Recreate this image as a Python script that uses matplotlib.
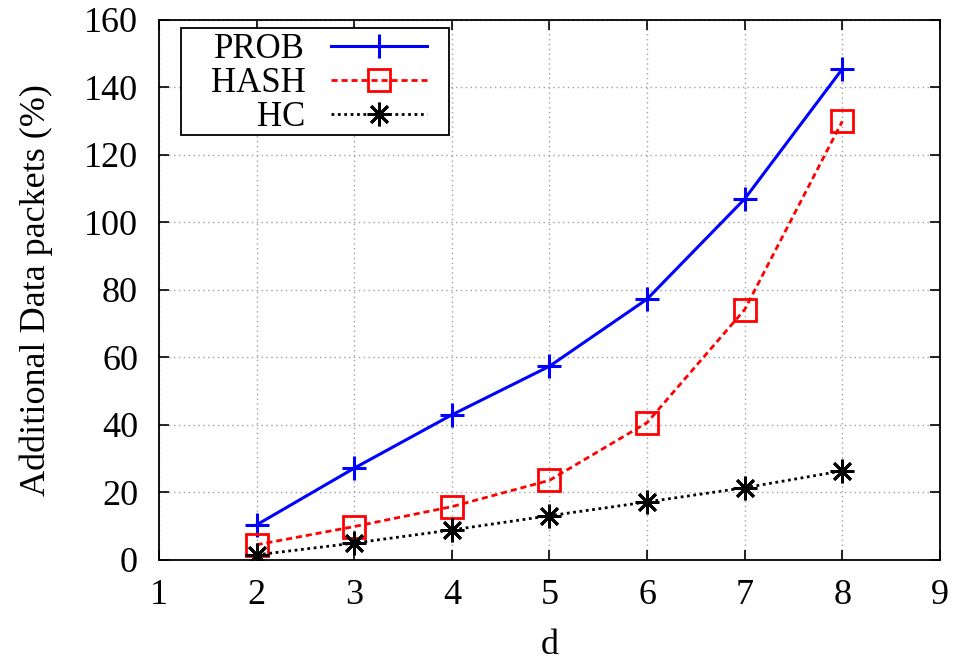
import matplotlib
matplotlib.use("Agg")
import matplotlib.pyplot as plt
from matplotlib.patches import Rectangle

d = [2, 3, 4, 5, 6, 7, 8]
prob = [10.4, 27.2, 43.0, 57.4, 77.3, 107.0, 145.5]
hash_ = [4.5, 9.9, 15.8, 23.6, 40.7, 74.2, 130.0]
hc = [1.5, 5.0, 8.9, 13.1, 17.2, 21.4, 26.4]
xticks = [1, 2, 3, 4, 5, 6, 7, 8, 9]
yticks = [0, 20, 40, 60, 80, 100, 120, 140, 160]

plt.rcParams['font.family'] = ['Liberation Serif', 'DejaVu Serif']

fig = plt.figure(figsize=(9.57, 6.66), dpi=100)
ax = fig.add_axes([0.1661, 0.1592, 0.9822 - 0.1661, 0.97 - 0.1592])

ax.plot(d, prob, color='#0000ff', lw=2.2, marker='+', ms=17, mew=2.2,
        label='PROB', zorder=3)
ax.plot(d, hash_, color='#ff0000', lw=2.0, ls=(0, (2.2, 1.4)), marker='s', ms=16,
        mfc='none', mew=2.0, label='HASH', zorder=3)
ax.plot(d, hc, color='black', lw=2.0, ls=(0, (1, 1.3)), marker=(8, 2, 0), ms=17,
        mew=2.0, label='HC', zorder=3)

ax.set_xlim(1, 9)
ax.set_ylim(0, 160)
ax.set_xticks(xticks)
ax.set_yticks(yticks)
ax.tick_params(direction='in', length=7, width=1.2, labelsize=26, top=True, right=True)
ax.tick_params(axis='y', pad=15)
ax.tick_params(axis='x', pad=14)
for s in ax.spines.values():
    s.set_linewidth(1.3)
ax.grid(True, color='#a0a0a0', ls=(0, (1, 2.5)), lw=1.0, zorder=0)
ax.set_axisbelow(True)

ax.set_xlabel('d', fontsize=26, labelpad=12)
ax.set_ylabel('Additional Data packets (%)', fontsize=26, labelpad=22)

leg = ax.legend(loc='upper right', bbox_to_anchor=(0.343, 0.975), fontsize=25,
                markerfirst=False, handlelength=2.75, handletextpad=0.75,
                labelspacing=0.02, borderpad=0.0, frameon=False, borderaxespad=0)
leg.set_zorder(5)
frame = Rectangle((0.0282, 0.787), 0.3713 - 0.0282, 0.985 - 0.787,
                  transform=ax.transAxes, facecolor='white', edgecolor='black',
                  lw=1.3, zorder=4)
ax.add_patch(frame)

fig.savefig('out.png', dpi=100)
